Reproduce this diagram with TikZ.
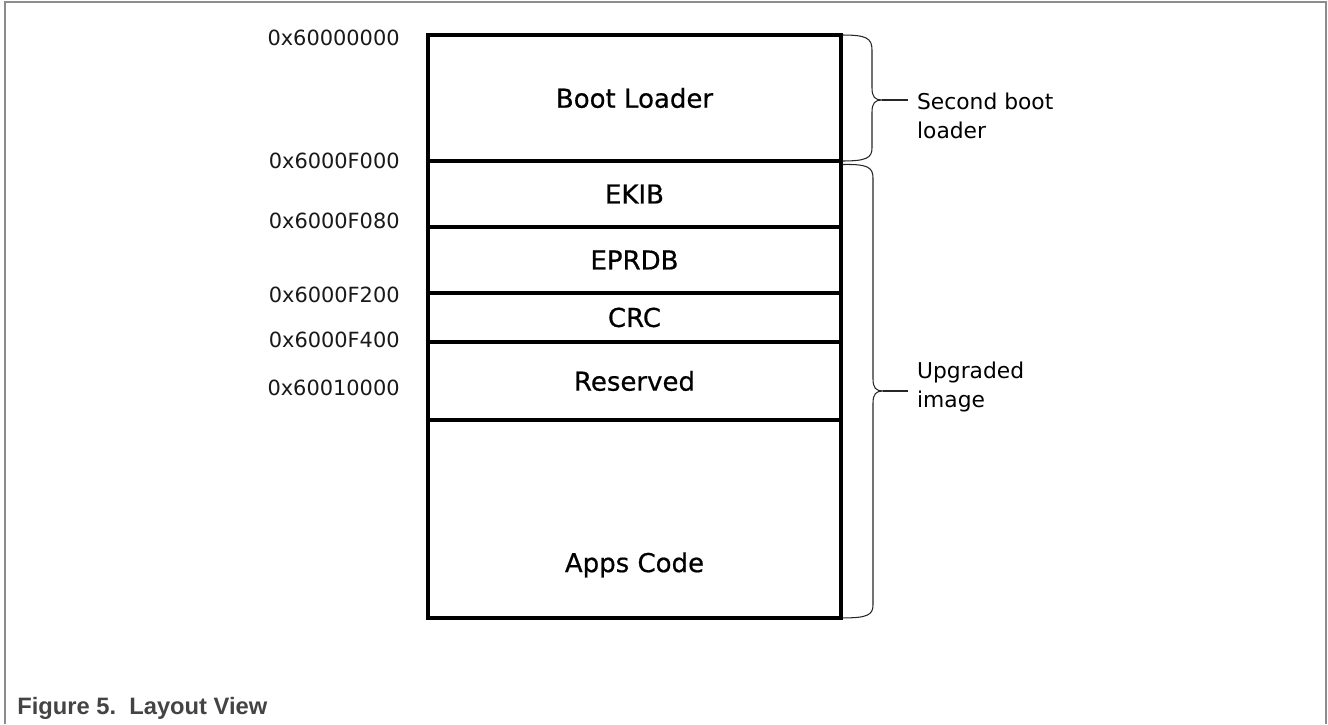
\documentclass[tikz,border=0pt]{standalone}
\usepackage{fontspec}
\setmainfont{DejaVu Sans}
\newfontfamily\captionfont{Liberation Sans}
\newfontfamily\blockfont[FakeBold=0.6]{DejaVu Sans}
\usetikzlibrary{positioning}

\definecolor{framegray}{HTML}{8C8C8C}
\definecolor{captiongray}{HTML}{444444}

\begin{document}
\begin{tikzpicture}
      [x=0.02cm,y=-0.02cm,
       memblock/.style={draw,line width=2.5pt,minimum width=8.26cm,inner sep=0pt,
         outer sep=0pt,font=\blockfont\fontsize{14.8}{16}\selectfont},
       addr/.style={anchor=east,inner sep=0pt,text=black!90,font=\fontsize{11.9}{14}\selectfont},
       note/.style={anchor=west,align=left,inner xsep=5pt,inner ysep=0pt,
         font=\fontsize{12.4}{16.5}\selectfont},
       brace/.style={line width=0.6pt,black!85}]
      \useasboundingbox (0,0) rectangle (1328,724);
      % frame
      \draw[framegray,line width=0.8pt] (5,724) -- (5,2) -- (1326,2) -- (1326,724);
      % memory blocks
      \node[memblock,minimum height=2.52cm] (boot) at (634.5,98) {Boot Loader};
      \node[memblock,minimum height=1.32cm,below=0pt of boot] (ekib) {EKIB};
      \node[memblock,minimum height=1.32cm,below=0pt of ekib] (eprdb) {EPRDB};
      \node[memblock,minimum height=0.98cm,below=0pt of eprdb] (crc) {CRC};
      \node[memblock,minimum height=1.56cm,below=0pt of crc] (reserved) {Reserved};
      \node[memblock,minimum height=3.96cm,below=0pt of reserved] (apps) {};
      \node[font=\blockfont\fontsize{14.8}{16}\selectfont] (appslabel)
        at ([yshift=-0.92cm]apps.center) {Apps Code};
      % addresses
      \foreach \y/\a/\nm in {38/0x60000000/a0, 161/0x6000F000/a1, 221/0x6000F080/a2,
                             295/0x6000F200/a3, 340/0x6000F400/a4, 388/0x60010000/a5}
        \node[addr] (\nm) at (400,\y) {\a};
      % braces
      \node[note] (bootnote) at (908,116) {Second boot\\loader};
      \node[note] (imgnote) at (908,387) {Upgraded\\image};
      \coordinate (bootcusp) at (882,100);
      \coordinate (imgcusp) at (883,391);
      \draw[brace] ([xshift=1pt]boot.north east) .. controls (866,35) and (872,38) .. (872,50)
        -- (872,88) .. controls (872,97) and (875,100) .. (bootcusp)
        .. controls (875,100) and (872,103) .. (872,112)
        -- (872,148) .. controls (872,158) and (866,161) .. ([xshift=1pt]boot.south east);
      \draw[brace] (bootcusp) -- (bootnote.west |- bootcusp);
      \draw[brace] ([shift={(1pt,-2pt)}]ekib.north east) .. controls (867,164) and (873,167) .. (873,178)
        -- (873,379) .. controls (873,388) and (876,391) .. (imgcusp)
        .. controls (876,391) and (873,394) .. (873,403)
        -- (873,605) .. controls (873,615) and (867,618) .. ([xshift=1pt]apps.south east);
      \draw[brace] (imgcusp) -- (imgnote.west |- imgcusp);
      % caption
      \node[anchor=west,inner sep=0pt,text=captiongray,
            font=\captionfont\bfseries\fontsize{13.5}{16}\selectfont] (caption) at (17,708)
            {Figure 5.\ \ Layout View};
\end{tikzpicture}
\end{document}
